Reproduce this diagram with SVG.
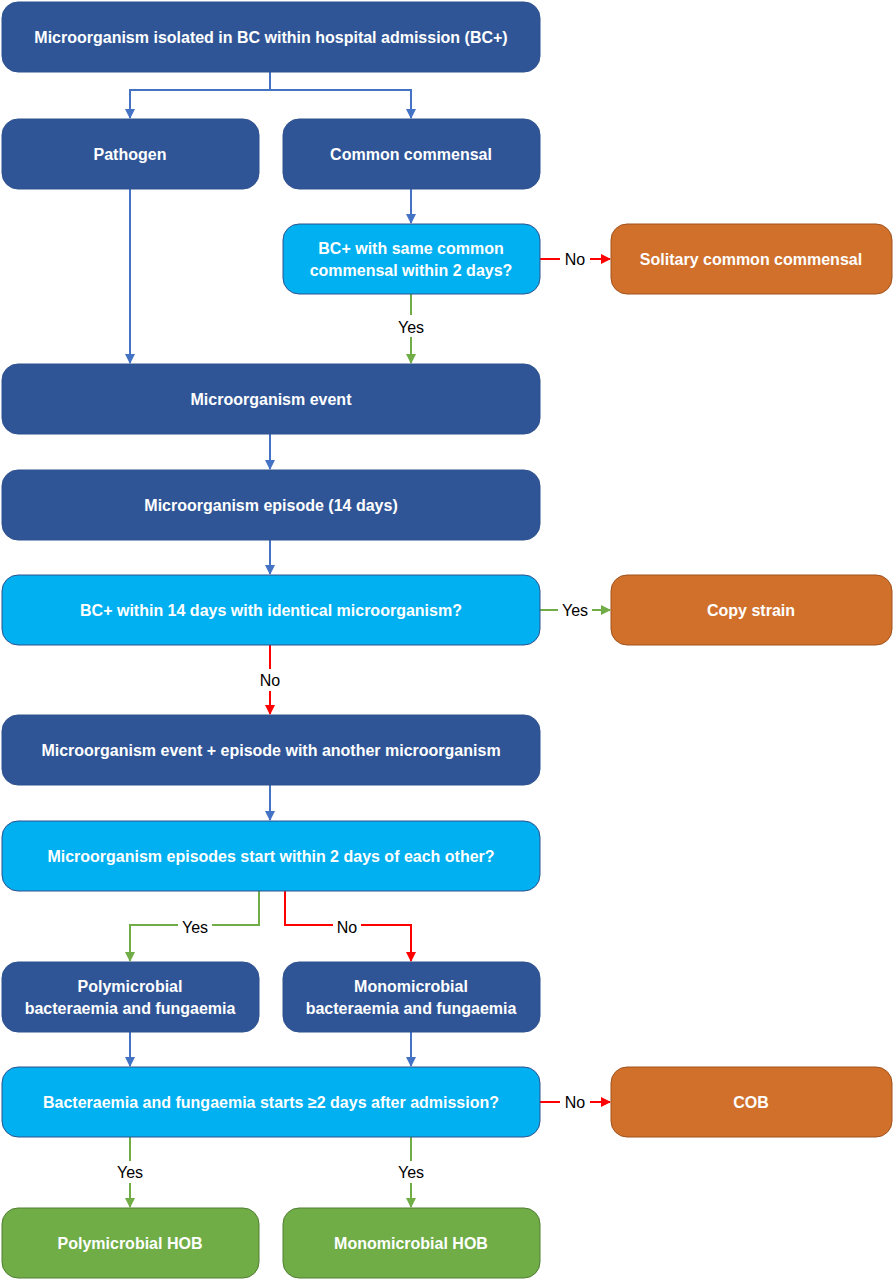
<svg xmlns="http://www.w3.org/2000/svg" width="894" height="1280" viewBox="0 0 894 1280">
<style>
.d{fill:#2F5597;stroke:#2F528F;stroke-width:1}
.l{fill:#00B0F0;stroke:#2F528F;stroke-width:1}
.o{fill:#D0702B;stroke:#A0521C;stroke-width:1}
.g{fill:#70AD47;stroke:#507E32;stroke-width:1}
.t{fill:#fff;font-family:"Liberation Sans",Arial,sans-serif;font-weight:bold;font-size:16px;text-anchor:middle;dominant-baseline:central}
.lb{fill:#000;font-family:"Liberation Sans",Arial,sans-serif;font-size:16px;text-anchor:middle;dominant-baseline:central}
.cb{fill:none;stroke:#4472C4;stroke-width:2}
.cg{fill:none;stroke:#70AD47;stroke-width:2}
.cr{fill:none;stroke:#FF0000;stroke-width:2}
</style>
<defs>
<marker id="ab" markerWidth="10" markerHeight="10" refX="9" refY="5" orient="auto" markerUnits="userSpaceOnUse"><path d="M0,0 L10,5 L0,10 z" fill="#4472C4"/></marker>
<marker id="ag" markerWidth="10" markerHeight="10" refX="9" refY="5" orient="auto" markerUnits="userSpaceOnUse"><path d="M0,0 L10,5 L0,10 z" fill="#70AD47"/></marker>
<marker id="ar" markerWidth="10" markerHeight="10" refX="9" refY="5" orient="auto" markerUnits="userSpaceOnUse"><path d="M0,0 L10,5 L0,10 z" fill="#FF0000"/></marker>
</defs>
<g id="connectors">
<path class="cb" d="M270,72 V90 H130 V118" marker-end="url(#ab)"/>
<path class="cb" d="M270,90 H411 V118" marker-end="url(#ab)"/>
<path class="cb" d="M130,189 V363" marker-end="url(#ab)"/>
<path class="cb" d="M411,189 V223" marker-end="url(#ab)"/>
<path class="cg" d="M411,294 V363" marker-end="url(#ag)"/>
<path class="cr" d="M540,259 H610" marker-end="url(#ar)"/>
<path class="cb" d="M270,434 V469" marker-end="url(#ab)"/>
<path class="cb" d="M270,540 V574" marker-end="url(#ab)"/>
<path class="cg" d="M540,610 H610" marker-end="url(#ag)"/>
<path class="cr" d="M270,645 V714" marker-end="url(#ar)"/>
<path class="cb" d="M270,785 V820" marker-end="url(#ab)"/>
<path class="cg" d="M259,891 V925 H130 V961" marker-end="url(#ag)"/>
<path class="cr" d="M285,891 V925 H411 V961" marker-end="url(#ar)"/>
<path class="cb" d="M130,1032 V1066" marker-end="url(#ab)"/>
<path class="cb" d="M411,1032 V1066" marker-end="url(#ab)"/>
<path class="cr" d="M540,1102 H610" marker-end="url(#ar)"/>
<path class="cg" d="M130,1137 V1207" marker-end="url(#ag)"/>
<path class="cg" d="M411,1137 V1207" marker-end="url(#ag)"/>
<rect x="394" y="315" width="34" height="22" fill="#fff"/><text class="lb" x="411" y="327">Yes</text>
<rect x="560" y="248" width="30" height="22" fill="#fff"/><text class="lb" x="575" y="259">No</text>
<rect x="558" y="599" width="34" height="22" fill="#fff"/><text class="lb" x="575" y="610">Yes</text>
<rect x="255" y="669" width="30" height="22" fill="#fff"/><text class="lb" x="270" y="680">No</text>
<rect x="178" y="916" width="34" height="22" fill="#fff"/><text class="lb" x="195" y="927">Yes</text>
<rect x="333" y="916" width="28" height="22" fill="#fff"/><text class="lb" x="347" y="927">No</text>
<rect x="560" y="1091" width="30" height="22" fill="#fff"/><text class="lb" x="575" y="1102">No</text>
<rect x="113" y="1161" width="34" height="22" fill="#fff"/><text class="lb" x="130" y="1172">Yes</text>
<rect x="394" y="1161" width="34" height="22" fill="#fff"/><text class="lb" x="411" y="1172">Yes</text>
</g>
<g id="n1"><rect class="d" x="2" y="2" width="538" height="70" rx="16"/><text class="t" x="271" y="37">Microorganism isolated in BC within hospital admission (BC+)</text></g>
<g id="n2"><rect class="d" x="2" y="119" width="257" height="70" rx="16"/><text class="t" x="130" y="154">Pathogen</text></g>
<g id="n3"><rect class="d" x="283" y="119" width="257" height="70" rx="16"/><text class="t" x="411" y="154">Common commensal</text></g>
<g id="n4"><rect class="l" x="283" y="224" width="257" height="70" rx="16"/><text class="t" x="411" y="248">BC+ with same common</text><text class="t" x="411" y="270">commensal within 2 days?</text></g>
<g id="n5"><rect class="o" x="611" y="224" width="281" height="70" rx="16"/><text class="t" x="751" y="259">Solitary common commensal</text></g>
<g id="n6"><rect class="d" x="2" y="364" width="538" height="70" rx="16"/><text class="t" x="271" y="399">Microorganism event</text></g>
<g id="n7"><rect class="d" x="2" y="470" width="538" height="70" rx="16"/><text class="t" x="271" y="505">Microorganism episode (14 days)</text></g>
<g id="n8"><rect class="l" x="2" y="575" width="538" height="70" rx="16"/><text class="t" x="271" y="610">BC+ within 14 days with identical microorganism?</text></g>
<g id="n9"><rect class="o" x="611" y="575" width="281" height="70" rx="16"/><text class="t" x="751" y="610">Copy strain</text></g>
<g id="n10"><rect class="d" x="2" y="715" width="538" height="70" rx="16"/><text class="t" x="271" y="750">Microorganism event + episode with another microorganism</text></g>
<g id="n11"><rect class="l" x="2" y="821" width="538" height="70" rx="16"/><text class="t" x="271" y="856">Microorganism episodes start within 2 days of each other?</text></g>
<g id="n12"><rect class="d" x="2" y="962" width="257" height="70" rx="16"/><text class="t" x="130" y="986">Polymicrobial</text><text class="t" x="130" y="1008">bacteraemia and fungaemia</text></g>
<g id="n13"><rect class="d" x="283" y="962" width="257" height="70" rx="16"/><text class="t" x="411" y="986">Monomicrobial</text><text class="t" x="411" y="1008">bacteraemia and fungaemia</text></g>
<g id="n14"><rect class="l" x="2" y="1067" width="538" height="70" rx="16"/><text class="t" x="271" y="1102">Bacteraemia and fungaemia starts ≥2 days after admission?</text></g>
<g id="n15"><rect class="o" x="611" y="1067" width="281" height="70" rx="16"/><text class="t" x="751" y="1102">COB</text></g>
<g id="n16"><rect class="g" x="2" y="1208" width="257" height="70" rx="16"/><text class="t" x="130" y="1243">Polymicrobial HOB</text></g>
<g id="n17"><rect class="g" x="283" y="1208" width="257" height="70" rx="16"/><text class="t" x="411" y="1243">Monomicrobial HOB</text></g>
</svg>
